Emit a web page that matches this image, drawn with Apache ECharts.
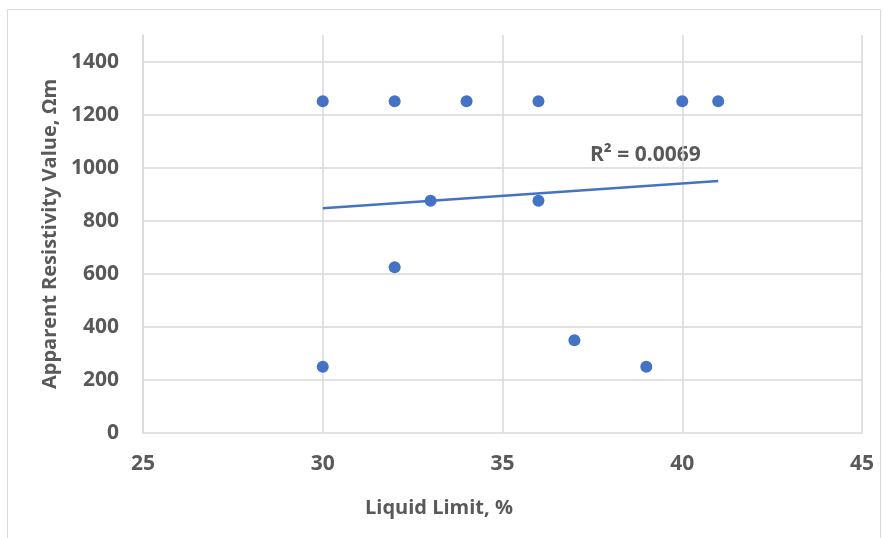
<!DOCTYPE html>
<html><head><meta charset="utf-8">
<script src="https://cdn.jsdelivr.net/npm/echarts@6/dist/echarts.min.js"></script>
<style>html,body{margin:0;padding:0;background:#fff}#c{width:883px;height:538px}</style>
</head><body><div id="c"></div>
<script>
const liquidLimit = [30, 32, 34, 36, 40, 41, 33, 36, 32, 37, 30, 39];
const resistivity = [1250, 1250, 1250, 1250, 1250, 1250, 875, 875, 625, 350, 250, 250];
const trendX = [30, 41];
const trendY = [847, 950];
const yGridValues = [200, 400, 600, 800, 1000, 1200, 1400];
const r2Label = 'R² = 0.0069';
const xTitle = 'Liquid Limit, %';
const yTitle = 'Apparent Resistivity Value, Ωm';

const font = '"Open Sans", "Noto Sans", sans-serif';
const textColor = '#595959';
const blue = '#4472C4';
const gridColor = '#d9d9d9';

const chart = echarts.init(document.getElementById('c'), null, {renderer: 'canvas'});
chart.setOption({
  animation: false,
  backgroundColor: '#fff',
  grid: {left: 143, right: 21, top: 35, bottom: 105, containLabel: false},
  graphic: [
    {type: 'rect', shape: {x: 7.5, y: 9.5, width: 873, height: 540}, style: {fill: 'none', stroke: '#d9d9d9', lineWidth: 1}, silent: true},
    {type: 'text', x: 590, y: 155, style: {text: r2Label, font: 'bold 21px ' + font, fill: textColor, verticalAlign: 'middle', align: 'left'}},
    {type: 'text', x: 439, y: 508, style: {text: xTitle, font: 'bold 20px ' + font, fill: textColor, verticalAlign: 'middle', align: 'center'}}
  ],
  xAxis: {
    type: 'value', min: 25, max: 45, interval: 5,
    axisLine: {show: true, lineStyle: {color: gridColor, width: 1.5}},
    axisTick: {show: false},
    axisLabel: {fontFamily: font, fontWeight: 'bold', fontSize: 21, color: textColor, margin: 21},
    splitLine: {show: true, lineStyle: {color: gridColor, width: 1.5}}
  },
  yAxis: {
    type: 'value', min: 0, max: 1500, interval: 100,
    name: yTitle, nameLocation: 'middle', nameGap: 82,
    nameTextStyle: {fontFamily: font, fontWeight: 'bold', fontSize: 20, color: textColor},
    axisLine: {show: true, lineStyle: {color: gridColor, width: 1.5}},
    axisTick: {show: false},
    axisLabel: {fontFamily: font, fontWeight: 'bold', fontSize: 21, color: textColor, margin: 24,
      formatter: v => (v % 200 === 0 ? String(v) : '')},
    splitLine: {show: false}
  },
  series: [
    {
      type: 'scatter',
      data: liquidLimit.map((x, i) => [x, resistivity[i]]),
      symbol: 'circle', symbolSize: 12,
      itemStyle: {color: blue, opacity: 1},
      z: 5,
      markLine: {
        silent: true, symbol: 'none', label: {show: false},
        lineStyle: {color: gridColor, width: 1.5, type: 'solid'},
        data: yGridValues.map(v => ({yAxis: v})),
        z: 1
      }
    },
    {
      type: 'line',
      data: trendX.map((x, i) => [x, trendY[i]]),
      showSymbol: false, symbol: 'none',
      lineStyle: {color: blue, width: 2.5},
      z: 4
    }
  ]
});
</script></body></html>
